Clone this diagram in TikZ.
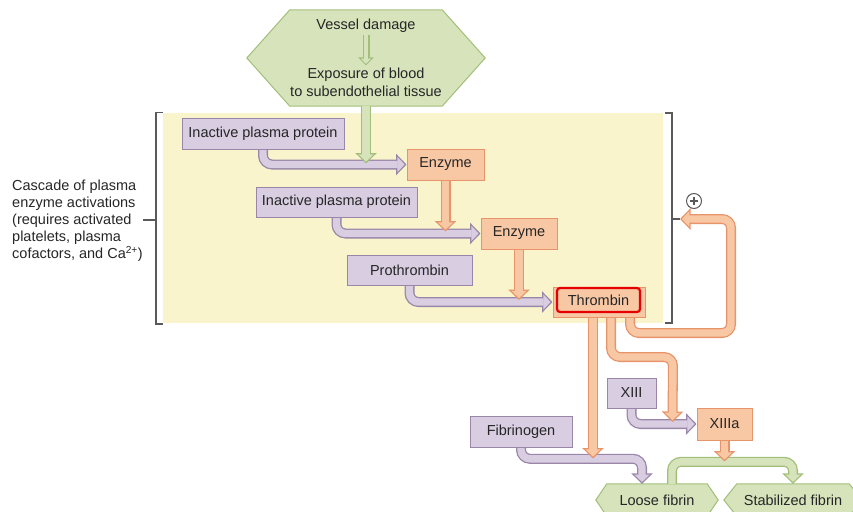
\documentclass[tikz,border=0pt]{standalone}
\usepackage{fontspec}
\setmainfont{Liberation Sans}
\usetikzlibrary{arrows.meta,calc}
\definecolor{yel}{HTML}{FAF4CC}
\definecolor{pf}{HTML}{D8CDE1}
\definecolor{pb}{HTML}{9A86A8}
\definecolor{of}{HTML}{F8C8A5}
\definecolor{ob}{HTML}{E8946A}
\definecolor{gf}{HTML}{D6E3BB}
\definecolor{gb}{HTML}{A2BF7A}
\definecolor{txt}{HTML}{262626}
\definecolor{brk}{HTML}{5A5A5A}
\definecolor{thrred}{HTML}{E60000}
\pgfdeclarelayer{bg}\pgfdeclarelayer{arr}\pgfsetlayers{bg,arr,main}
\newcommand\fs{\fontsize{14.5}{17.5}\selectfont}
\newcommand\barrow[3]{%
 \draw[line width=10pt,draw=#1,rounded corners=9pt,-{Triangle[width=21pt,length=10.5pt]}] #3;
 \draw[line width=7.4pt,draw=#2,rounded corners=9pt,shorten >=1.85pt,-{Triangle[width=15pt,length=7.4pt]}] #3;}
\newcommand\sarrow[3]{%
 \draw[line width=7pt,draw=#1,-{Triangle[width=15pt,length=8pt]}] #3;
 \draw[line width=4.8pt,draw=#2,shorten >=1.6pt,-{Triangle[width=10pt,length=5.3pt]}] #3;}
\tikzset{
 box/.style={draw, line width=1pt, inner sep=0pt, text=txt, font=\fs},
 pbox/.style={box, fill=pf, draw=pb},
 obox/.style={box, fill=of, draw=ob},
 lbl/.style={inner sep=2pt, text=txt, font=\fs},
 brack/.style={draw=brk, line width=1.2pt},
 hexa/.style={fill=gf, draw=gb, line width=1pt}
}
\begin{document}
\begin{tikzpicture}[x=1pt,y=-1pt]
\useasboundingbox (0,0) rectangle (853,511);
% background panel
\begin{pgfonlayer}{bg}
\fill[yel] (163,113) rectangle (663,323);
\end{pgfonlayer}
% hexagon nodes
\node[inner sep=0, minimum width=152pt, minimum height=96pt] (hex) at (366,58) {};
\node[lbl] (vd) at (366,26) {Vessel damage};
\node[lbl, align=center, font=\fontsize{14.5}{18}\selectfont] (exp) at (366,82) {Exposure of blood\\to subendothelial tissue};
\node[inner sep=0, minimum width=100pt, minimum height=32pt, text=txt, font=\fs] (loose) at (657,500) {Loose fibrin};
\node[inner sep=0, minimum width=112pt, minimum height=32pt, text=txt, font=\fs] (stab) at (793,500) {Stabilized fibrin};
\begin{pgfonlayer}{bg}
\path[hexa] (hex.north west) -- (hex.north east) -- ($(hex.east)+(43,0)$) -- (hex.south east) -- (hex.south west) -- ($(hex.west)+(-43,0)$) -- cycle;
\path[hexa] (loose.north west) -- (loose.north east) -- ($(loose.east)+(11,0)$) -- (loose.south east) -- (loose.south west) -- ($(loose.west)+(-11,0)$) -- cycle;
\path[hexa] (stab.north west) -- (stab.north east) -- ($(stab.east)+(13,0)$) -- (stab.south east) -- (stab.south west) -- ($(stab.west)+(-13,0)$) -- cycle;
\end{pgfonlayer}
% boxes
\node[pbox, minimum width=162pt, minimum height=31pt] (ip1) at (263,133.5) {Inactive plasma protein};
\node[obox, minimum width=77pt, minimum height=31pt] (enz1) at (445.5,164.5) {Enzyme};
\node[pbox, minimum width=161pt, minimum height=30pt] (ip2) at (336.5,202) {Inactive plasma protein};
\node[obox, minimum width=76pt, minimum height=31pt] (enz2) at (519,233.5) {Enzyme};
\node[pbox, minimum width=125pt, minimum height=30pt] (proth) at (409.5,270) {Prothrombin};
\node[obox, minimum width=92pt, minimum height=30pt] (thr) at (599,302) {};
\node[draw=thrred, line width=2.2pt, rounded corners=3pt, minimum width=83pt, minimum height=24pt, inner sep=0, text=txt, font=\fs] (thrin) at (598.5,300) {Thrombin};
\node[pbox, minimum width=49pt, minimum height=30pt] (xiii) at (631.5,393) {XIII};
\node[obox, minimum width=55pt, minimum height=32pt] (xiiia) at (724.5,424) {XIIIa};
\node[pbox, minimum width=102pt, minimum height=31pt] (fibg) at (521,431.5) {Fibrinogen};
% label and brackets
\node[lbl, anchor=west, align=left, font=\fontsize{14.5}{17}\selectfont] (cascade) at (10,221) {Cascade of plasma\\enzyme activations\\(requires activated\\platelets, plasma\\cofactors, and Ca\textsuperscript{2+})};
\draw[brack] (163,112.5) -- (156,112.5) -- (156,324) -- (163,324);
\draw[brack] (143,220) -- (156,220);
\draw[brack] (665,113) -- (672,113) -- (672,323) -- (665,323);
\draw[brack] (672,219) -- (680,219);
\node[circle, draw=brk, line width=1pt, minimum size=15pt, inner sep=0] (plus) at (694,201) {};
\draw[brk, line width=1.1pt] ($(plus.center)+(-4,0)$) -- ($(plus.center)+(4,0)$);
\draw[brk, line width=1.1pt] ($(plus.center)+(0,-4)$) -- ($(plus.center)+(0,4)$);
% arrows
\begin{pgfonlayer}{arr}
\barrow{pb}{pf}{(ip1.south) |- (enz1.west)}
\barrow{pb}{pf}{(ip2.south) |- (enz2.west)}
\barrow{pb}{pf}{(proth.south) |- (thr.west)}
\barrow{pb}{pf}{(xiii.south) |- (xiiia.west)}
\barrow{pb}{pf}{(fibg.south) |- ($(loose.north)+(-15,-25)$) -- ($(loose.north)+(-15,0)$)}
\sarrow{gb}{gf}{(vd.south) -- (exp.north)}
\barrow{gb}{gf}{(hex.south) -- ($(hex.south |- enz1.west)+(0,-1)$)}
\barrow{gb}{gf}{($(loose.north)+(15,0)$) |- ($(stab.north)+(0,-22)$) -- (stab.north)}
\barrow{ob}{of}{(enz1.south) -- ($(enz1.south |- enz2.west)+(0,-2)$)}
\barrow{ob}{of}{(enz2.south) -- ($(enz2.south |- thr.west)+(0,-2)$)}
\barrow{ob}{of}{($(thr.south)+(-6,0)$) -- ($(thr.south)+(-6,141)$)}
\barrow{ob}{of}{($(thr.south)+(12,0)$) -- (611,357) -- (673,357) -- ($(xiiia.west)+(-24,-2)$)}
\barrow{ob}{of}{($(thr.south)+(31,0)$) -- (630,333) -- (731,333) -- (731,219) -- (680,219)}
\barrow{ob}{of}{(xiiia.south) -- ($(xiiia.south)+(0,21)$)}
\end{pgfonlayer}
\end{tikzpicture}
\end{document}
